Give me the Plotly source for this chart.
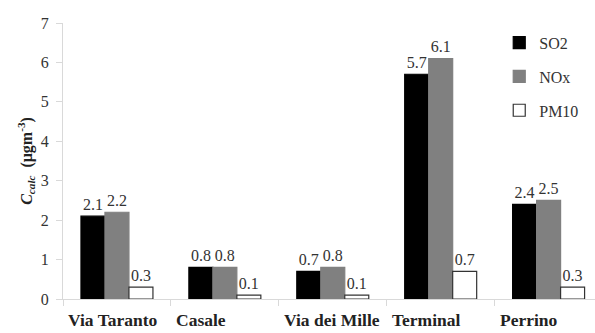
import plotly.graph_objects as go

sites = ["Via Taranto", "Casale", "Via dei Mille", "Terminal", "Perrino"]
so2 = [2.1, 0.8, 0.7, 5.7, 2.4]
nox = [2.2, 0.8, 0.8, 6.1, 2.5]
pm10 = [0.3, 0.1, 0.1, 0.7, 0.3]

FONT = "Liberation Serif"
TXT = "#333333"

fig = go.Figure()
series = [("SO2", so2, "#000000", "#000000"),
          ("NOx", nox, "#808080", "#808080"),
          ("PM10", pm10, "#ffffff", "#333333")]
for name, vals, fill, line in series:
    fig.add_trace(go.Bar(
        x=sites, y=vals, name=name, legendgroup=name,
        marker=dict(color=fill, line=dict(color=line, width=1.2)),
        text=[f"{v:.1f}" for v in vals], textposition="outside",
        textfont=dict(family=FONT, size=16, color=TXT),
        cliponaxis=False,
    ))

# category labels, left-aligned at the start of each category slot
for i, s in enumerate(sites):
    fig.add_annotation(x=i - 0.5, y=0, xref="x", yref="paper",
                       text=f"<b>{s}</b>", showarrow=False,
                       xanchor="left", yanchor="top", xshift=3, yshift=-9,
                       font=dict(family=FONT, size=17.5, color="#222222"))

fig.update_layout(
    width=595, height=333,
    margin=dict(l=63, r=0, t=23, b=34),
    paper_bgcolor="white", plot_bgcolor="white",
    barmode="group", bargap=0.333, bargroupgap=0,
    font=dict(family=FONT, color=TXT),
    legend=dict(x=0.82, y=0.99, xanchor="left", yanchor="top",
                font=dict(family=FONT, size=16, color=TXT),
                tracegroupgap=10, traceorder="grouped",
                itemwidth=30, bgcolor="rgba(0,0,0,0)"),
    xaxis=dict(showline=True, linecolor="#d9d9d9", linewidth=1,
               range=[-0.5, 4.43],
               ticks="outside", tickson="boundaries", ticklen=6, tickcolor="#d9d9d9",
               showticklabels=False, showgrid=False, automargin=False),
    yaxis=dict(range=[0, 7], dtick=1, showline=True, linecolor="#d9d9d9", linewidth=1,
               ticks="outside", ticklen=6, tickcolor="#d9d9d9",
               tickfont=dict(family=FONT, size=16, color=TXT),
               ticklabelstandoff=4,
               showgrid=False, zeroline=False, automargin=False,
               title=dict(text="<b><i>C<sub>calc</sub></i>  (μgm<sup>-3</sup>)</b>",
                          font=dict(family=FONT, size=16, color="#222222"),
                          standoff=4)),
)

fig.write_html("out.html", config={"displayModeBar": False},
               post_script="document.body.style.margin='0';document.body.style.overflow='hidden';")
